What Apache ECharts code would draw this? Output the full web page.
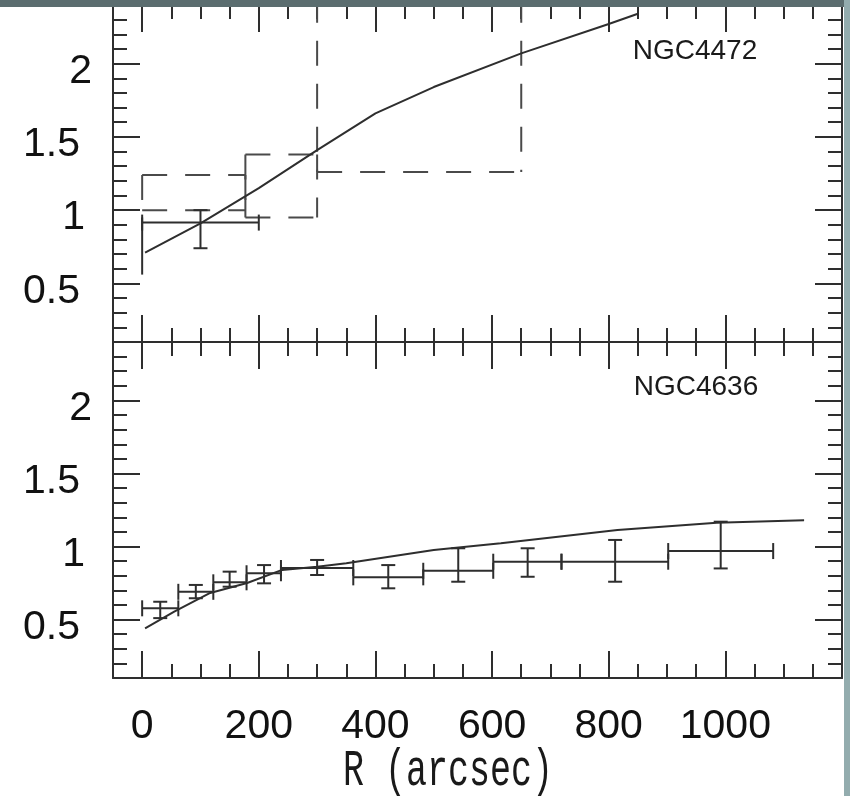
<!DOCTYPE html>
<html>
<head>
<meta charset="utf-8">
<script src="https://cdn.jsdelivr.net/npm/echarts@6/dist/echarts.min.js"></script>
<style>
html,body{margin:0;padding:0;background:#fff;}
#chart{width:850px;height:796px;}
</style>
</head>
<body>
<div id="chart"></div>
<script>
// Radial profiles of NGC 4472 and NGC 4636, radius R in arcsec

const rTicks = [0, 200, 400, 600, 800, 1000];
const tTicks = [0.5, 1, 1.5, 2];

// NGC 4472: model curve
const n4472ModelR = [5, 100, 200, 300, 400, 500, 650, 800, 850];
const n4472ModelT = [0.71, 0.91, 1.15, 1.41, 1.66, 1.84, 2.07, 2.27, 2.34];

// NGC 4472: binned measurement (centre, bin edges, value, error range)
const n4472R = [100];
const n4472RLo = [0];
const n4472RHi = [200];
const n4472T = [0.915];
const n4472TLo = [0.74];
const n4472THi = [1.0];

// NGC 4472: range at the centre
const n4472CoreR = [0];
const n4472CoreTLo = [0.56];
const n4472CoreTHi = [0.95];

// NGC 4472: dashed boxes (radial bin x allowed range)
const n4472BoxRLo = [0, 177, 300];
const n4472BoxRHi = [177, 300, 650];
const n4472BoxTLo = [1.0, 0.95, 1.26];
const n4472BoxTHi = [1.24, 1.38, 2.45];

// NGC 4636: model curve
const n4636ModelR = [5, 55, 115, 180, 240, 300, 350, 500, 615, 815, 985, 1135];
const n4636ModelT = [0.44, 0.555, 0.68, 0.75, 0.84, 0.862, 0.885, 0.976, 1.022, 1.113, 1.163, 1.18];

// NGC 4636: binned measurements
const n4636R   = [31, 92, 150, 209, 300, 422, 542, 661, 811, 992];
const n4636RLo = [0, 62, 122, 179, 238, 362, 482, 602, 719, 902];
const n4636RHi = [62, 122, 179, 238, 362, 482, 602, 719, 902, 1082];
const n4636T   = [0.577, 0.69, 0.755, 0.817, 0.853, 0.789, 0.834, 0.896, 0.896, 0.969];
const n4636TLo = [0.51, 0.646, 0.725, 0.748, 0.805, 0.714, 0.759, 0.793, 0.759, 0.85];
const n4636THi = [0.622, 0.737, 0.828, 0.873, 0.908, 0.873, 0.988, 0.988, 1.045, 1.17];

const INK = '#2e2e2e';
const FONT = 'Liberation Sans, Arial, sans-serif';

function zip() {
  const cols = Array.from(arguments);
  return cols[0].map((_, i) => cols.map(c => c[i]));
}

function errorBarItem(params, api) {
  const r = api.value(0), rLo = api.value(1), rHi = api.value(2);
  const t = api.value(3), tLo = api.value(4), tHi = api.value(5);
  const a = api.coord([rLo, t]), b = api.coord([rHi, t]);
  const lo = api.coord([r, tLo]), hi = api.coord([r, tHi]);
  const style = { stroke: INK, lineWidth: 2, fill: null };
  const capW = 7, capH = 8;
  const seg = (x1, y1, x2, y2) => ({ type: 'line', shape: { x1, y1, x2, y2 }, style });
  return {
    type: 'group',
    children: [
      seg(a[0], a[1], b[0], b[1]),
      seg(a[0], a[1] - capH, a[0], a[1] + capH),
      seg(b[0], b[1] - capH, b[0], b[1] + capH),
      seg(lo[0], lo[1], hi[0], hi[1]),
      seg(lo[0] - capW, lo[1], lo[0] + capW, lo[1]),
      seg(hi[0] - capW, hi[1], hi[0] + capW, hi[1])
    ]
  };
}

function rangeItem(params, api) {
  const lo = api.coord([api.value(0), api.value(1)]);
  const hi = api.coord([api.value(0), api.value(2)]);
  return { type: 'line', shape: { x1: lo[0], y1: lo[1], x2: hi[0], y2: hi[1] },
           style: { stroke: INK, lineWidth: 2 } };
}

function boxItem(params, api) {
  const p00 = api.coord([api.value(0), api.value(3)]);
  const p10 = api.coord([api.value(1), api.value(3)]);
  const p01 = api.coord([api.value(0), api.value(2)]);
  const p11 = api.coord([api.value(1), api.value(2)]);
  const style = { stroke: '#4a4a4a', lineWidth: 2, lineDash: [25, 18], fill: null };
  const seg = (p, q) => ({ type: 'line', shape: { x1: p[0], y1: p[1], x2: q[0], y2: q[1] }, style });
  return { type: 'group', children: [seg(p00, p10), seg(p01, p11), seg(p00, p01), seg(p10, p11)] };
}

const lineStyle = { color: INK, width: 2 };

function xAxesFor(grid, withLabels) {
  const base = { type: 'value', gridIndex: grid, min: -50, max: 1200,
                 splitLine: { show: false } };
  const out = [];
  ['bottom', 'top'].forEach(pos => {
    out.push(Object.assign({}, base, {
      position: pos, interval: 50,
      axisLine: { show: true, onZero: false, lineStyle },
      axisTick: { show: true, inside: true, length: 14, lineStyle },
      axisLabel: { show: false }
    }));
    out.push(Object.assign({}, base, {
      position: pos,
      axisLine: { show: false, onZero: false },
      axisTick: { show: true, inside: true, length: 27, lineStyle, customValues: rTicks },
      axisLabel: {
        show: withLabels && pos === 'bottom', customValues: rTicks,
        formatter: v => String(v), margin: 28,
        fontFamily: FONT, fontSize: 41, color: '#111'
      }
    }));
  });
  return out;
}

function yAxesFor(grid) {
  const base = { type: 'value', gridIndex: grid, min: 0.1, max: 2.4,
                 splitLine: { show: false } };
  const richBase = { fontFamily: FONT, fontSize: 41, color: '#111' };
  const out = [];
  ['left', 'right'].forEach(pos => {
    out.push(Object.assign({}, base, {
      position: pos, interval: 0.1,
      axisLine: { show: true, onZero: false, lineStyle },
      axisTick: { show: true, inside: true, length: 14, lineStyle },
      axisLabel: { show: false }
    }));
    out.push(Object.assign({}, base, {
      position: pos,
      axisLine: { show: false, onZero: false },
      axisTick: { show: true, inside: true, length: 27, lineStyle, customValues: tTicks },
      axisLabel: {
        show: pos === 'left', customValues: tTicks, margin: 21,
        formatter: v => {
          const s = String(v);
          const key = s === '2' ? 'w2' : (s === '1' ? 'w1' : 'wd');
          return '{' + key + '|' + s + '}';
        },
        rich: {
          w2: Object.assign({ padding: [16, 0, 0, 0] }, richBase),
          w1: Object.assign({ padding: [16, 7, 0, 0] }, richBase),
          wd: Object.assign({ padding: [16, 12, 0, 0] }, richBase)
        }
      }
    }));
  });
  return out;
}

const chart = echarts.init(document.getElementById('chart'), null, { renderer: 'canvas' });

chart.setOption({
  animation: false,
  backgroundColor: '#ffffff',
  grid: [
    { left: 113, top: 5, width: 729, height: 337, containLabel: false, outerBoundsMode: 'none' },
    { left: 113, top: 342, width: 729, height: 336, containLabel: false, outerBoundsMode: 'none' }
  ],
  xAxis: xAxesFor(0, false).concat(xAxesFor(1, true)),
  yAxis: yAxesFor(0).concat(yAxesFor(1)),
  series: [
    {
      name: 'NGC4472 boxes', type: 'custom', xAxisIndex: 0, yAxisIndex: 0, clip: true,
      renderItem: boxItem,
      data: zip(n4472BoxRLo, n4472BoxRHi, n4472BoxTLo, n4472BoxTHi)
    },
    {
      name: 'NGC4472 model', type: 'line', xAxisIndex: 0, yAxisIndex: 0,
      showSymbol: false, lineStyle: { color: INK, width: 2 },
      data: zip(n4472ModelR, n4472ModelT)
    },
    {
      name: 'NGC4472 data', type: 'custom', xAxisIndex: 0, yAxisIndex: 0,
      renderItem: errorBarItem,
      data: zip(n4472R, n4472RLo, n4472RHi, n4472T, n4472TLo, n4472THi)
    },
    {
      name: 'NGC4472 centre', type: 'custom', xAxisIndex: 0, yAxisIndex: 0,
      renderItem: rangeItem,
      data: zip(n4472CoreR, n4472CoreTLo, n4472CoreTHi)
    },
    {
      name: 'NGC4636 model', type: 'line', xAxisIndex: 4, yAxisIndex: 4,
      showSymbol: false, lineStyle: { color: INK, width: 2 },
      data: zip(n4636ModelR, n4636ModelT)
    },
    {
      name: 'NGC4636 data', type: 'custom', xAxisIndex: 4, yAxisIndex: 4,
      renderItem: errorBarItem,
      data: zip(n4636R, n4636RLo, n4636RHi, n4636T, n4636TLo, n4636THi)
    }
  ],
  graphic: [
    { type: 'text', x: 695, y: 51, z: 10,
      style: { text: 'NGC4472', font: '28px ' + FONT, fill: '#1a1a1a', align: 'center', verticalAlign: 'middle' } },
    { type: 'text', x: 696, y: 387, z: 10,
      style: { text: 'NGC4636', font: '28px ' + FONT, fill: '#1a1a1a', align: 'center', verticalAlign: 'middle' } },
    { type: 'text', x: 448, y: 771, z: 10, scaleY: 1.5,
      style: { text: 'R (arcsec)', font: '35px Liberation Mono, Courier New, monospace', fill: '#1a1a1a', align: 'center', verticalAlign: 'middle' } },
    { type: 'rect', z: 20, shape: { x: 0, y: 0, width: 850, height: 7 }, style: { fill: '#5b6d6f' } },
    { type: 'rect', z: 20, shape: { x: 844, y: 0, width: 6, height: 796 }, style: { fill: '#93acae' } }
  ]
});
</script>
</body>
</html>
